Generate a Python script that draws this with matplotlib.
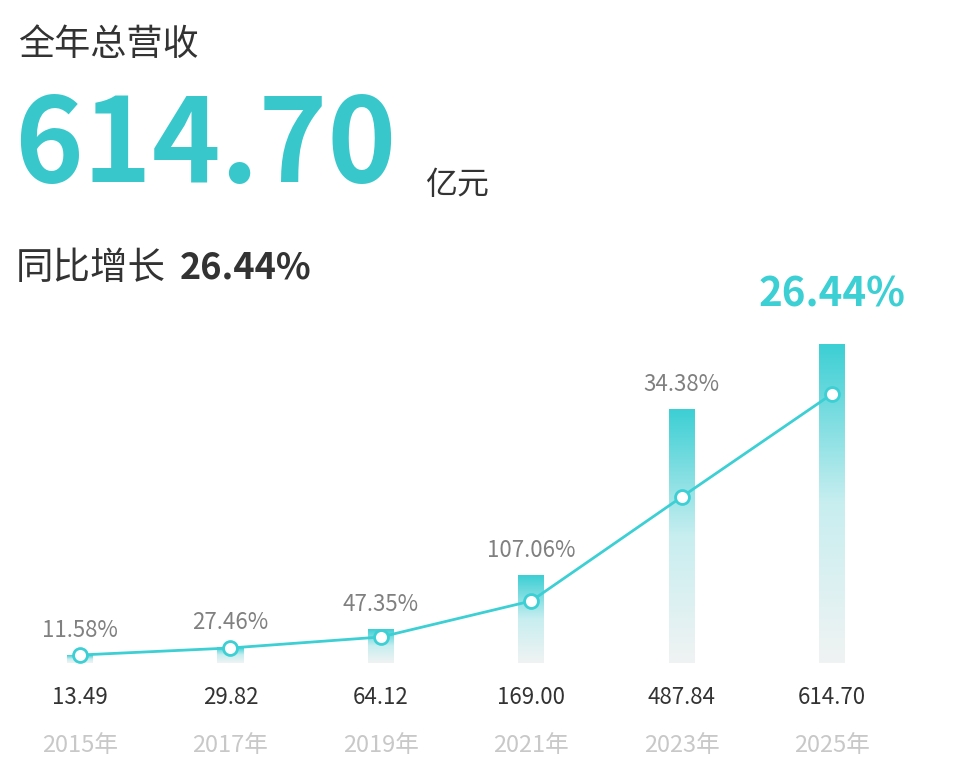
import matplotlib
matplotlib.use("Agg")
import matplotlib.pyplot as plt
import numpy as np
from matplotlib.colors import LinearSegmentedColormap

plt.rcParams['font.family'] = ['Noto Sans CJK SC', 'DejaVu Sans']

years = ["2015年", "2017年", "2019年", "2021年", "2023年", "2025年"]
revenue = [13.49, 29.82, 64.12, 169.00, 487.84, 614.70]
growth = ["11.58%", "27.46%", "47.35%", "107.06%", "34.38%", "26.44%"]
line_vals = [18.3, 34.3, 59.4, 141.7, 379.3, 614.7]

TEAL = "#3ccfd4"
fig = plt.figure(figsize=(9.55, 7.75), dpi=100)

fig.text(18/955, 1-45/775, "全年总营收", fontsize=26, color="#333333", va="center")
fig.text(14/955, 1-148/775, "614.70", fontsize=84, color="#38c8cc", va="center", fontweight="bold")
fig.text(425/955, 1-185/775, "亿元", fontsize=23, color="#333333", va="center")
fig.text(16/955, 1-268/775, "同比增长", fontsize=27, color="#333333", va="center")
fig.text(180/955, 1-268/775, "26.44%", fontsize=26, color="#333333", va="center", fontweight="bold")

BASE = 663
ax = fig.add_axes([0, (775-BASE)/775, 1, 363/775])
n = len(years)
x = np.arange(n)
xl = (-80/150.4, (955-80)/150.4)
w = 26/150.4
ymax = 614.7*363/319
cmap = LinearSegmentedColormap.from_list("g", ["#f0f3f3", "#c8eef0", TEAL])
grad = np.linspace(0, 1, 256).reshape(-1, 1)
for xi, v in zip(x, revenue):
    ax.imshow(grad, extent=(xi-w/2, xi+w/2, 0, v), origin="lower", aspect="auto",
              cmap=cmap, zorder=1)
ax.set_xlim(*xl)
ax.set_ylim(0, ymax)
ax.axis("off")

ax2 = fig.add_axes([0, (775-BASE)/775, 1, 363/775])
ax2.set_xlim(*xl)
ax2.set_ylim(0, 614.7*363/269)
ax2.axis("off")
ax2.plot(x, line_vals, color=TEAL, lw=2, marker="o", ms=10, mfc="white", mec=TEAL, mew=2, zorder=3)

for i, (xi, v, g) in enumerate(zip(x, revenue, growth)):
    xf = (80+150.4*xi)/955
    if i == n-1:
        fig.text(xf, 1-295/775, g, fontsize=29, color=TEAL,
                 ha="center", va="center", fontweight="bold")
    else:
        ypix = BASE - v*319/614.7 - 25
        fig.text(xf, 1-ypix/775, g, fontsize=16, color="#808080",
                 ha="center", va="center")
    fig.text(xf, 1-697/775, f"{v:.2f}", fontsize=16, color="#333333",
             ha="center", va="center")
    fig.text(xf, 1-745/775, years[i], fontsize=17, color="#c8c8c8",
             ha="center", va="center")

fig.savefig("out.png", dpi=100, facecolor="white")
